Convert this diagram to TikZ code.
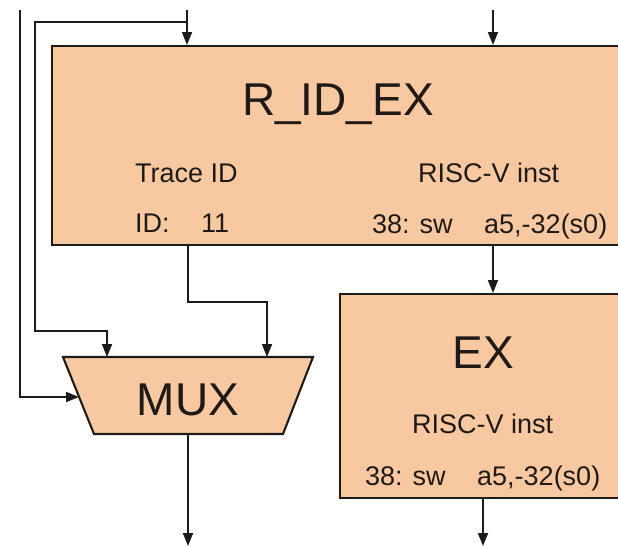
\documentclass[tikz,border=0pt]{standalone}
\usepackage{fontspec}
\setmainfont{Liberation Sans}
\usetikzlibrary{arrows.meta}
\definecolor{peach}{HTML}{F8C9A0}
\definecolor{ink}{HTML}{1E1A18}
\begin{document}
\begin{tikzpicture}[x=1pt,y=-1pt,
  wire/.style={draw=ink, line width=1.8pt},
  flow/.style={wire, -{Triangle[length=13pt,width=10pt]}},
  block/.style={draw=ink, fill=peach, line width=2.1pt, inner sep=0pt},
  big/.style={font=\fontsize{46}{50}\selectfont, text=ink, inner sep=0pt},
  small/.style={font=\fontsize{27}{30}\selectfont, text=ink, inner sep=0pt},
]
\useasboundingbox (0,0) rectangle (618,547);
\clip (0,0) rectangle (618,547);

% pipeline register and execute stage (both run past the right edge)
\node[block, anchor=north west, minimum width=600pt, minimum height=199pt] (ridex) at (51,45) {};
\node[block, anchor=north west, minimum width=300pt, minimum height=204pt] (ex) at (339,293) {};

% multiplexer
\coordinate (muxTL) at (63,357);
\coordinate (muxTR) at (313,357);
\coordinate (muxBR) at (283,434);
\coordinate (muxBL) at (94,434);
\path[block] (muxTL) -- (muxTR) -- (muxBR) -- (muxBL) -- cycle;
\node[big, anchor=base] (muxlabel) at (188,415) {MUX};

% register contents
\node[big, anchor=base] (ridexname) at (338,115) {R\_ID\_EX};
\node[small, anchor=base west] (traceh) at (135,182) {Trace ID};
\node[small, anchor=base west] (tracel) at (135,232) {ID:};
\node[small, anchor=base west] (tracev) at (201,232) {11};
\node[small, anchor=base west] (insth) at (418,182) {RISC-V inst};
\node[small, anchor=base west] (instop) at (372,233) {38: sw};
\node[small, anchor=base west] (instarg) at (484,233) {a5,-32(s0)};

% execute stage contents
\node[big, anchor=base] (exname) at (483,368) {EX};
\node[small, anchor=base west] (exh) at (412,433) {RISC-V inst};
\node[small, anchor=base west] (exop) at (365,485) {38: sw};
\node[small, anchor=base west] (exarg) at (477,485) {a5,-32(s0)};

% wire end points
\coordinate (inTrace) at (187,10);
\coordinate (tapTrace) at (187,22);
\coordinate (inInst) at (493,10);
\coordinate (inSel) at (20,10);
\coordinate (selBend) at (20,397);
\coordinate (selIn) at (79,397);
\coordinate (byBend1) at (35,22);
\coordinate (byBend2) at (35,331);
\coordinate (muxInA) at (107,357);
\coordinate (idOut) at (188,244);
\coordinate (idBend) at (188,302);
\coordinate (muxInB) at (267,357);
\coordinate (muxOut) at (188,434);
\coordinate (muxEnd) at (188,546);
\coordinate (exEnd) at (483,546);

% connections
\draw[flow] (inTrace) -- (inTrace |- ridex.north);
\draw[flow] (inInst) -- (inInst |- ridex.north);
\draw[flow] (inSel) -- (selBend) -- (selIn);
\draw[flow] (tapTrace) -- (byBend1) -- (byBend2) -| (muxInA);
\draw[flow] (idOut) -- (idBend) -| (muxInB);
\draw[flow] (inInst |- ridex.south) -- (inInst |- ex.north);
\draw[flow] (muxOut) -- (muxEnd);
\draw[flow] (exEnd |- ex.south) -- (exEnd);
\end{tikzpicture}
\end{document}
